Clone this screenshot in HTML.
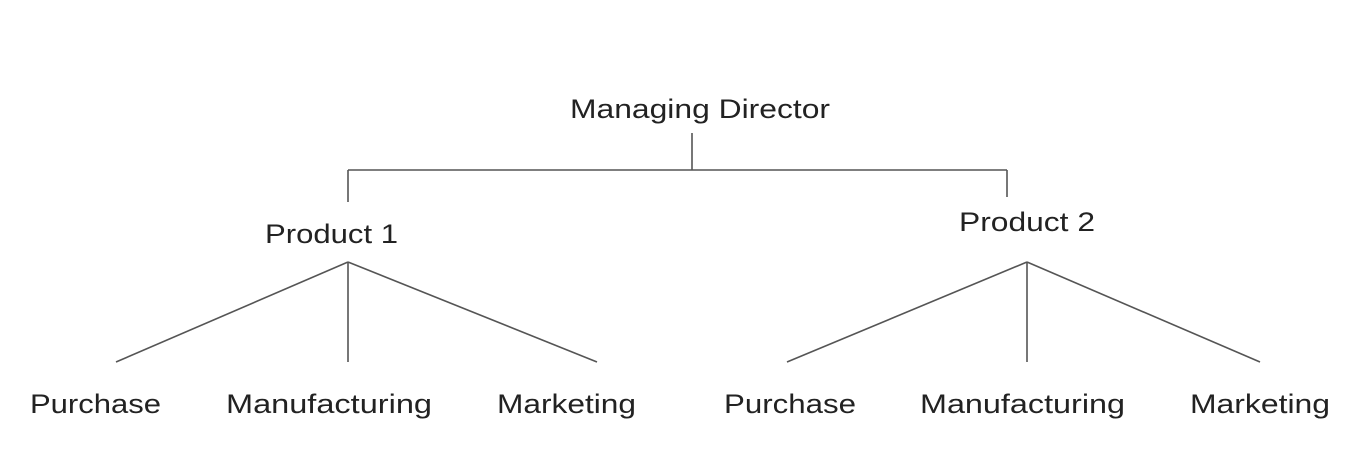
<!DOCTYPE html>
<html><head><meta charset="utf-8"><style>
html,body{margin:0;padding:0;background:#fff;}
svg{display:block;}
text{font-family:"Liberation Sans",sans-serif;font-size:27px;fill:#222;}
</style></head><body>
<svg width="1345" height="460" viewBox="0 0 1345 460" xmlns="http://www.w3.org/2000/svg">
<g stroke="#555" stroke-width="1.6" fill="none">
<line x1="692" y1="133" x2="692" y2="170"/>
<line x1="348" y1="170" x2="1007" y2="170"/>
<line x1="348" y1="170" x2="348" y2="202"/>
<line x1="1007" y1="170" x2="1007" y2="197"/>
<line x1="348" y1="262" x2="116" y2="362"/>
<line x1="348" y1="262" x2="348" y2="362"/>
<line x1="348" y1="262" x2="597" y2="362"/>
<line x1="1027" y1="262" x2="787" y2="362"/>
<line x1="1027" y1="262" x2="1027" y2="362"/>
<line x1="1027" y1="262" x2="1260" y2="362"/>
</g>
<text x="570" y="118" textLength="260" lengthAdjust="spacingAndGlyphs">Managing Director</text>
<text x="265" y="243" textLength="133" lengthAdjust="spacingAndGlyphs">Product 1</text>
<text x="959" y="231" textLength="136" lengthAdjust="spacingAndGlyphs">Product 2</text>
<text x="30" y="413" textLength="131" lengthAdjust="spacingAndGlyphs">Purchase</text>
<text x="226" y="413" textLength="206" lengthAdjust="spacingAndGlyphs">Manufacturing</text>
<text x="497" y="413" textLength="139" lengthAdjust="spacingAndGlyphs">Marketing</text>
<text x="724" y="413" textLength="132" lengthAdjust="spacingAndGlyphs">Purchase</text>
<text x="920" y="413" textLength="205" lengthAdjust="spacingAndGlyphs">Manufacturing</text>
<text x="1190" y="413" textLength="140" lengthAdjust="spacingAndGlyphs">Marketing</text>
</svg>
</body></html>
